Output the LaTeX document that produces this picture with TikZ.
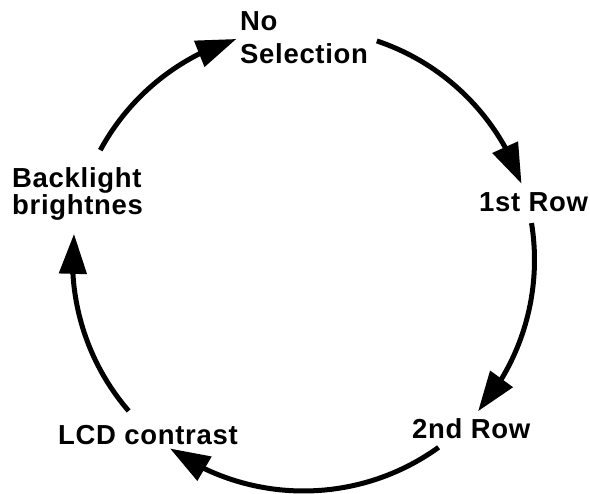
\documentclass[tikz,border=0pt]{standalone}
\usepackage{fontspec}
\setmainfont{Liberation Sans}[LetterSpace=2.5]
\usetikzlibrary{arrows.meta,bending}
\begin{document}
\begin{tikzpicture}[x=1pt,y=1pt,
  lbl/.style={anchor=north west,inner sep=0pt,align=left,font=\bfseries\fontsize{27.5}{27}\selectfont},
  conn/.style={line width=5pt,-{Triangle[length=40pt,width=27pt,flex]}}]
\useasboundingbox[fill=white] (0,0) rectangle (590,494);
\coordinate (O) at (303.5,234);
\def\R{231}
% labels
\node[lbl,font=\bfseries\fontsize{27.5}{33}\selectfont] (nosel) at (240,483) {No\\Selection};
\node[lbl] (row1) at (479,302) {1st Row};
\node[lbl] (row2) at (412,76) {2nd Row};
\node[lbl] (lcd) at (58,69) {LCD contrast};
\node[lbl] (back) at (12,327) {Backlight\\brightnes};
% arc start points
\path (O) ++(71.5:\R) coordinate (a1);
\path (O) ++(9.2:\R) coordinate (a2);
\path (O) ++(-54.2:\R) coordinate (a3);
\path (O) ++(-139.2:\R) coordinate (a4);
\path (O) ++(151.6:\R) coordinate (a5);
% connectors
\draw[conn] (a1) arc[start angle=71.5,end angle=19.3,radius=\R];
\draw[conn] (a2) arc[start angle=9.2,end angle=-40.9,radius=\R];
\draw[conn] (a3) arc[start angle=-54.2,end angle=-125.3,radius=\R];
\draw[conn] (a4) arc[start angle=-139.2,end angle=-186.5,radius=\R];
\draw[conn] (a5) arc[start angle=151.6,end angle=106.9,radius=\R];
\end{tikzpicture}
\end{document}
